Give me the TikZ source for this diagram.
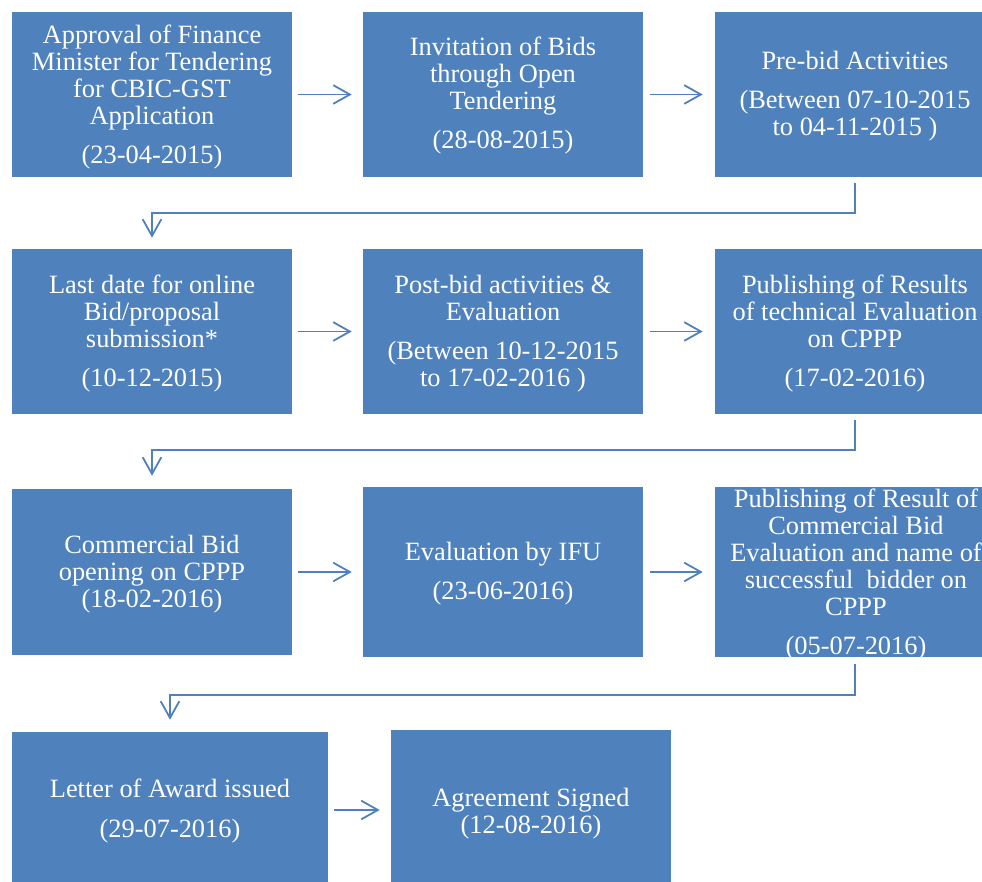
\documentclass[tikz,border=0pt]{standalone}
\usepackage{fontspec}
\setmainfont{Liberation Serif}
\usetikzlibrary{arrows.meta}
\definecolor{boxblue}{HTML}{4F81BD}
\begin{document}
\begin{tikzpicture}[x=0.75pt,y=-0.75pt,
 box/.style={fill=boxblue, draw=none, inner sep=0pt, minimum width=210pt, minimum height=123.75pt},
 txt/.style={text=white, align=center, font=\fontsize{19.8}{20.25}\selectfont, inner sep=0pt},
 conn/.style={draw=boxblue, line width=1.35pt, -{Straight Barb[length=12.5pt,width=14pt,line width=1.35pt]}},
]
\useasboundingbox (0,0) rectangle (982,882);
\clip (0,0) rectangle (982,882);
% boxes
\node[box] (b1) at (152,94.5) {};
\node[box] (b2) at (503,94.5) {};
\node[box] (b3) at (855,94.5) {};
\node[box] (b4) at (152,331.5) {};
\node[box] (b5) at (503,331.5) {};
\node[box] (b6) at (855,331.5) {};
\node[box, minimum height=124.5pt] (b7) at (152,572) {};
\node[box, minimum height=127.5pt] (b8) at (503,572) {};
\node[box, minimum height=127.5pt] (b9) at (855,572) {};
\node[box, minimum width=237pt, minimum height=117pt] (b10) at (170,810) {};
\node[box, minimum height=120pt] (b11) at (531,810) {};
% texts
\node[txt] (t1) at (152,97) {Approval of Finance\\Minister for Tendering\\for CBIC-GST\\Application\\[9pt](23-04-2015)};
\node[txt] (t2) at (503,96) {Invitation of Bids\\through Open\\Tendering\\[9pt](28-08-2015)};
\node[txt] (t3) at (855,96.5) {Pre-bid Activities\\[9pt](Between 07-10-2015\\to 04-11-2015 )};
\node[txt] (t4) at (152,334) {Last date for online\\Bid/proposal\\submission*\\[9pt](10-12-2015)};
\node[txt] (t5) at (503,334) {Post-bid activities \&\\Evaluation\\[9pt](Between 10-12-2015\\to 17-02-2016 )};
\node[txt] (t6) at (855,334) {Publishing of Results\\of technical Evaluation\\on CPPP\\[9pt](17-02-2016)};
\node[txt] (t7) at (152,574) {Commercial Bid\\opening on CPPP\\(18-02-2016)};
\node[txt] (t8) at (503,574) {Evaluation by IFU\\[9pt](23-06-2016)};
\node[txt] (t9) at (856,575) {Publishing of Result of\\Commercial Bid\\Evaluation and name of\\successful\ \ bidder on\\CPPP\\[9pt](05-07-2016)};
\node[txt] (t10) at (170,811) {Letter of Award issued\\[9.75pt](29-07-2016)};
\node[txt] (t11) at (531,814) {Agreement Signed\\(12-08-2016)};
% connectors
\draw[conn, shorten <=4.5pt, shorten >=8.25pt] (b1.east) -- (b2.west);
\draw[conn, shorten <=5.25pt, shorten >=9pt] (b2.east) -- (b3.west);
\draw[conn, shorten <=4.5pt, shorten >=8.25pt] (b4.east) -- (b5.west);
\draw[conn, shorten <=5.25pt, shorten >=9pt] (b5.east) -- (b6.west);
\draw[conn, shorten <=4.5pt, shorten >=8.25pt] (b7.east) -- (b8.west);
\draw[conn, shorten <=5.25pt, shorten >=9pt] (b8.east) -- (b9.west);
\draw[conn, shorten <=4.5pt, shorten >=8.25pt] (b10.east) -- (b11.west);
\draw[conn, shorten <=4.5pt, shorten >=8.25pt] (b3.south) -- ++(0,36) -| (b4.north);
\draw[conn, shorten <=4.5pt, shorten >=9.75pt] (b6.south) -- ++(0,36) -| (b7.north);
\draw[conn, shorten <=5pt, shorten >=9pt] (b9.south) -- ++(0,38) -| (b10.north);
\end{tikzpicture}
\end{document}
